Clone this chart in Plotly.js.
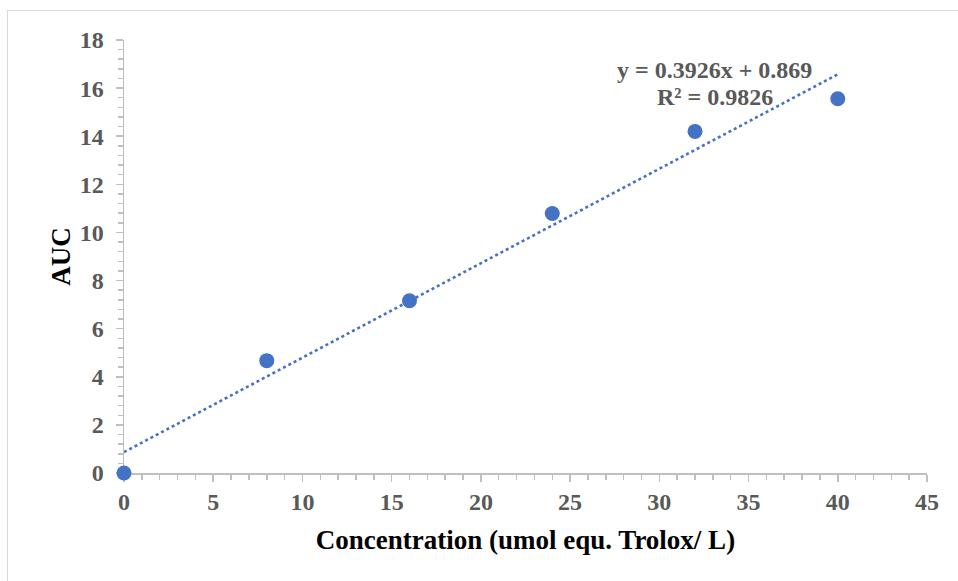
<!DOCTYPE html>
<html>
<head>
<meta charset="utf-8">
<script src="https://cdn.plot.ly/plotly-3.0.1.min.js"></script>
<style>
  html, body { margin: 0; padding: 0; background: #fff; }
  #wrap { position: relative; width: 958px; height: 581px; overflow: hidden; }
  #chart { width: 958px; height: 581px; }
  #frame { position: absolute; left: 7px; top: 10px; width: 960px; height: 580px;
           border: 1px solid #d9d9d9; pointer-events: none; }
</style>
</head>
<body>
<div id="wrap">
  <div id="chart"></div>
  <div id="frame"></div>
</div>
<script>
// Trolox standard curve: concentration vs. area under the curve
const concentration = [0, 8, 16, 24, 32, 40];
const auc = [0, 4.67, 7.16, 10.79, 14.20, 15.56];

// Linear fit reported for the series
const fitSlope = 0.3926;
const fitIntercept = 0.869;
const fitR2 = 0.9826;
const fitRange = [0, 40];

const blue = '#4472C4';
const tickGrey = '#595959';
const axisGrey = '#bfbfbf';
const serif = '"Liberation Serif", "Times New Roman", serif';

const fitX = fitRange;
const fitY = fitRange.map(x => fitSlope * x + fitIntercept);

const traces = [
  {
    x: fitX, y: fitY, mode: 'lines', type: 'scatter',
    line: { color: blue, width: 2.6, dash: 'dot' },
    hoverinfo: 'skip', showlegend: false, cliponaxis: false
  },
  {
    x: concentration, y: auc, mode: 'markers', type: 'scatter',
    marker: { color: blue, size: 15 },
    showlegend: false, cliponaxis: false
  }
];

const axisCommon = {
  showgrid: false, zeroline: false, layer: 'below traces',
  showline: true, linecolor: axisGrey, linewidth: 1.5,
  ticks: 'outside', tickcolor: axisGrey, tickwidth: 1.5, ticklen: 7,
  tickfont: { family: serif, size: 24, color: tickGrey, weight: 'bold' }
};

const eqFont = { family: serif, size: 24, color: tickGrey, weight: 'bold' };

const layout = {
  width: 958, height: 581,
  margin: { l: 124, r: 31, t: 40, b: 108 },
  paper_bgcolor: '#ffffff', plot_bgcolor: '#ffffff',
  xaxis: Object.assign({}, axisCommon, {
    range: [0, 45], dtick: 5, tick0: 0,
    minor: { dtick: 1, ticks: 'outside', ticklen: 5, tickcolor: axisGrey, tickwidth: 1.5 },
    title: { text: 'Concentration (umol equ. Trolox/ L)', standoff: 16,
             font: { family: serif, size: 27, color: '#000', weight: 'bold' } }
  }),
  yaxis: Object.assign({}, axisCommon, {
    range: [0, 18], dtick: 2, tick0: 0, ticklabelstandoff: 7,
    minor: { dtick: 0.4, ticks: 'outside', ticklen: 5, tickcolor: axisGrey, tickwidth: 1.5 },
    title: { text: 'AUC', standoff: 1,
             font: { family: serif, size: 27, color: '#000', weight: 'bold' } }
  }),
  annotations: [
    {
      x: 33.08, y: 16.77, xref: 'x', yref: 'y', showarrow: false,
      text: 'y = ' + fitSlope + 'x + ' + fitIntercept, font: eqFont
    },
    {
      x: 33.13, y: 15.65, xref: 'x', yref: 'y', showarrow: false,
      text: 'R² = ' + fitR2, font: eqFont
    }
  ]
};

Plotly.newPlot('chart', traces, layout, { displayModeBar: false, staticPlot: true });
</script>
</body>
</html>
